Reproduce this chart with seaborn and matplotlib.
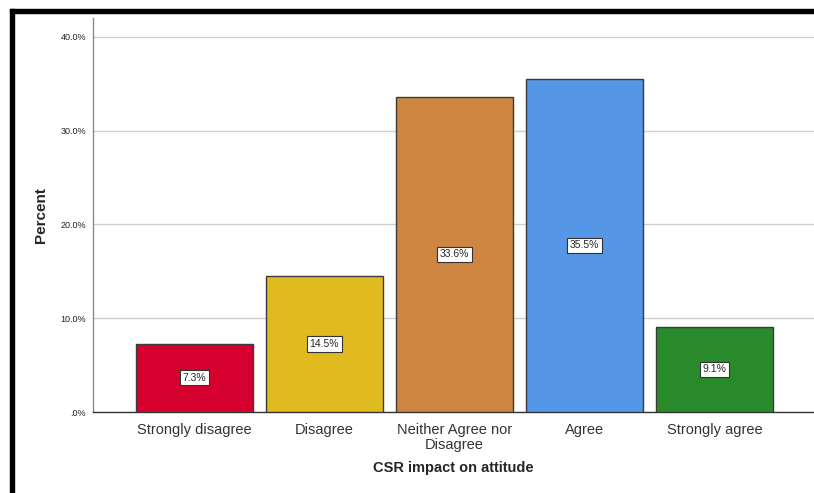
import matplotlib
matplotlib.use("Agg")
import matplotlib.pyplot as plt
import matplotlib.ticker as mticker
import numpy as np
import pandas as pd
import seaborn as sns

# data
categories = ["Strongly disagree", "Disagree", "Neither Agree nor\nDisagree", "Agree", "Strongly agree"]
percent = [7.3, 14.5, 33.6, 35.5, 9.1]
bar_colors = ["#d6002f", "#e1ba1f", "#cd853f", "#5596e6", "#298a2b"]
y_ticks = [0, 10, 20, 30, 40]

df = pd.DataFrame({"category": categories, "percent": percent})

sns.set_style("white")
plt.rcParams['font.family'] = ['Liberation Sans', 'DejaVu Sans']

W, H = 814, 493
fig = plt.figure(figsize=(W / 100, H / 100), dpi=100)
ax = fig.add_axes([93 / W, 1 - 412 / H, 1 - 93 / W, (412 - 18) / H])

sns.barplot(data=df, x="category", y="percent", hue="category",
            palette=bar_colors, saturation=1, legend=False, width=0.9,
            edgecolor="#3a3a3a", linewidth=1.0, ax=ax, zorder=3)

ax.set_ylim(0, 42)
ax.set_xlim(-0.78, 4.765)
ax.set_yticks(y_ticks)
ax.yaxis.set_major_formatter(mticker.FuncFormatter(lambda v, p: ".0%" if v == 0 else f"{v:.1f}%"))
ax.grid(axis="y", color="#cfcfcf", linewidth=1.0, zorder=0)
ax.set_axisbelow(True)

ax.tick_params(axis="y", labelsize=6.5, length=0, pad=5, labelcolor="#222222")
ax.tick_params(axis="x", labelsize=10.5, length=0, pad=8, labelcolor="#333333")
for lab in ax.get_xticklabels():
    lab.set_linespacing(1.1)

for s in ["top", "right"]:
    ax.spines[s].set_visible(False)
ax.spines["left"].set_color("#8a8a8a")
ax.spines["left"].set_linewidth(1.0)
ax.spines["bottom"].set_color("#333333")
ax.spines["bottom"].set_linewidth(1.0)

ax.set_xlabel("CSR impact on attitude", fontsize=10.5, fontweight="bold", labelpad=6)
ax.set_ylabel("Percent", fontsize=11, fontweight="bold", labelpad=9)

# value labels in the middle of each bar
for i, v in enumerate(percent):
    ax.text(i, v / 2, f"{v:.1f}%", ha="center", va="center", fontsize=7.5, zorder=5,
            bbox=dict(boxstyle="square,pad=0.25", facecolor="white", edgecolor="#333333", linewidth=0.8))

# black frame on top and left
fig.add_artist(plt.Rectangle((10 / W, 1 - 13 / H), 1 - 10 / W, 4 / H,
                             transform=fig.transFigure, color="black", zorder=10))
fig.add_artist(plt.Rectangle((10 / W, 0), 4 / W, 1 - 9 / H,
                             transform=fig.transFigure, color="black", zorder=10))

fig.savefig("out.png", dpi=100)
